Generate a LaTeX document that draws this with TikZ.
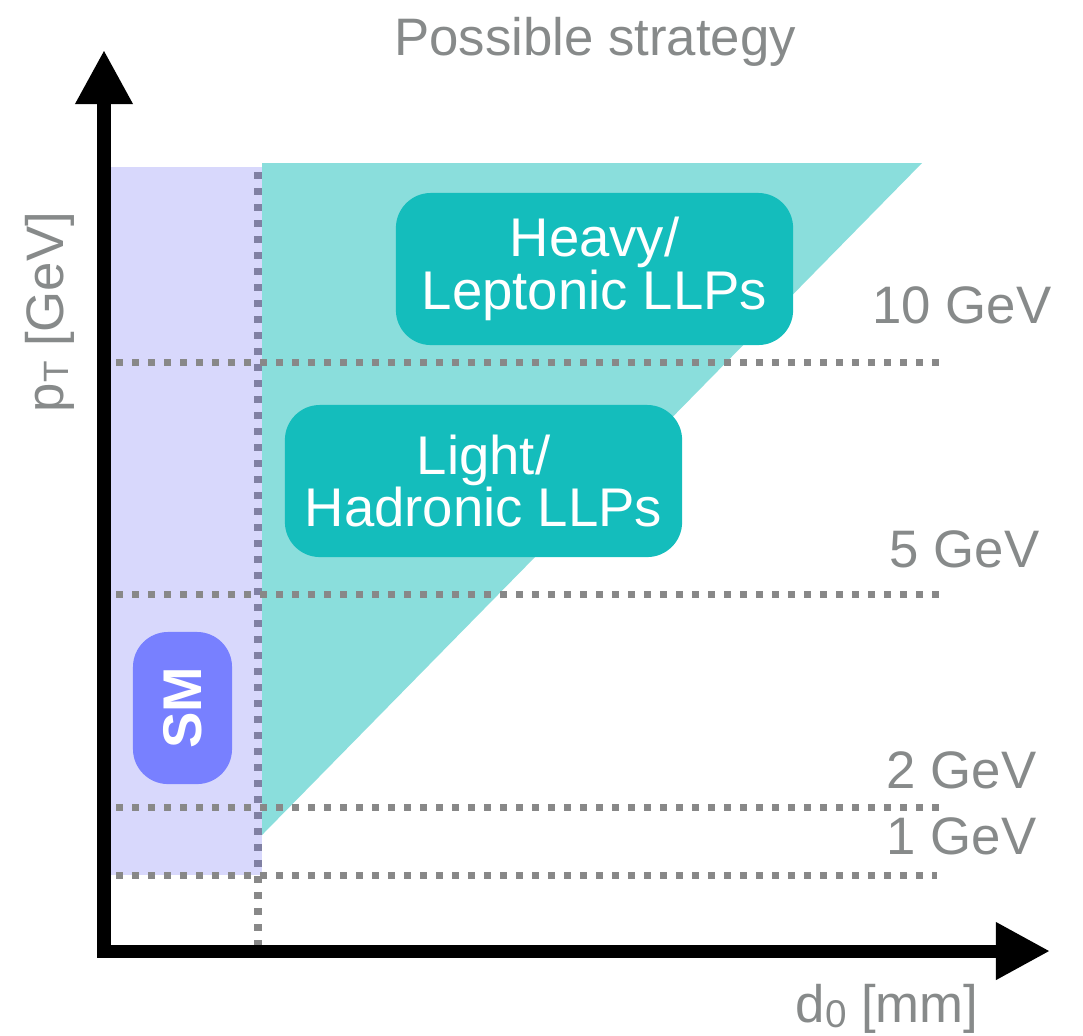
\documentclass[tikz,border=0pt]{standalone}
\usepackage{fontspec}
\setmainfont{Liberation Sans}
\usetikzlibrary{arrows.meta}
\definecolor{txtgrey}{HTML}{878A8A}
\definecolor{dotgrey}{HTML}{888888}
\definecolor{smblue}{HTML}{6A6AF4}
\definecolor{palecyan}{HTML}{8ADEDC}
\definecolor{llpcyan}{HTML}{14BDBC}
\definecolor{smbox}{HTML}{7880FF}

\begin{document}
\begin{tikzpicture}[x=0.01cm, y=-0.01cm,
    cut/.style={dotgrey, line width=2pt, dash pattern=on 2pt off 2.55pt},
    axis/.style={line width=0.13cm, {Triangle[length=0.54cm,width=0.54cm]}-{Triangle[length=0.54cm,width=0.54cm]}},
    lbl/.style={txtgrey, font=\fontsize{15}{15}\selectfont, inner sep=0pt},
    llpbox/.style={fill=llpcyan, rounded corners=0.35cm, text=white, align=center,
      font=\fontsize{15.5}{15}\selectfont, minimum width=3.97cm, minimum height=1.52cm}]
      \useasboundingbox (0,0) rectangle (1083,1035);

      % regions
      \draw[cut] (258,172) -- (258,945);
      \fill[smblue, fill opacity=0.26] (110,167) rectangle (262,875);
      \fill[palecyan] (262,163) -- (922,163) -- (262,835) -- cycle;

      % pT thresholds
      \foreach \y/\xe in {362/945, 594/945, 807/943, 875/937}
        \draw[cut] (100,\y) -- (\xe,\y);

      \node[lbl, anchor=base east] (ten) at (1052,323) {10 GeV};
      \node[lbl, anchor=base east] (five) at (1040,567) {5 GeV};
      \node[lbl, anchor=base east] (two) at (1037,788) {2 GeV};
      \node[lbl, anchor=base east] (one) at (1037,854) {1 GeV};

      % boxes
      \node[llpbox] (heavy) at (594.5,269) {Heavy/\\Leptonic LLPs};
      \node[llpbox] (light) at (483.5,481) {Light/\\Hadronic LLPs};
      \node[fill=smbox, rounded corners=0.35cm, minimum width=0.99cm, minimum height=1.52cm] (sm) at (182.5,708) {};
      \node[text=white, rotate=90, font=\fontsize{15.5}{15}\selectfont\bfseries] (smtext) at (sm.center) {SM};

      % axes
      \coordinate (origin) at (104,951);
      \coordinate (ytip) at (104,50);
      \coordinate (xtip) at (1050,951);
      \draw[axis] (ytip) -- (origin) -- (xtip);

      \node[lbl, rotate=90] (ylabel) at (50,312) {p{\fontsize{10}{10}\selectfont\raisebox{-1.5pt}{T}} [GeV]};
      \node[lbl, anchor=base] (xlabel) at (887,1022) {d{\fontsize{11}{11}\selectfont\raisebox{-1.5pt}{0}} [mm]};
      \node[lbl, anchor=base] (title) at (595,55) {Possible strategy};
    \end{tikzpicture}
\end{document}
